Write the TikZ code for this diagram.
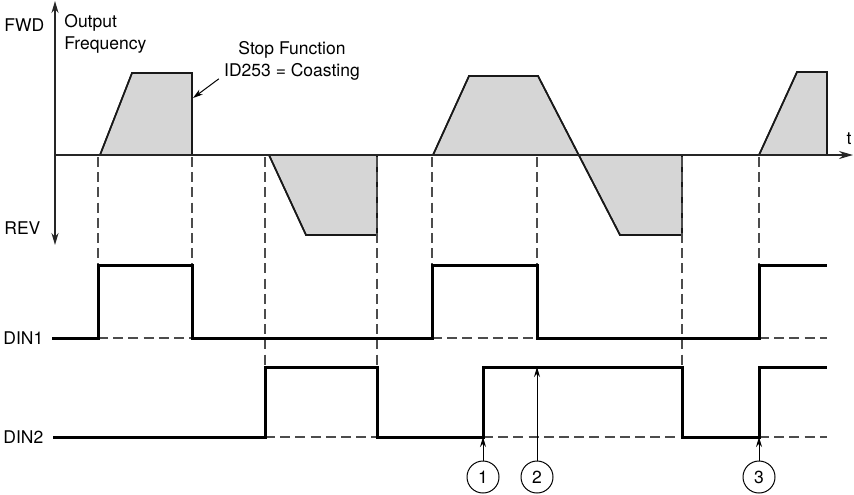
\documentclass[tikz,border=0pt]{standalone}
\usepackage{fontspec}
\setmainfont{TeX Gyre Heros}
\usetikzlibrary{arrows.meta,positioning}

\begin{document}
\begin{tikzpicture}[x=0.5pt,y=-0.5pt,
  axis/.style={line width=0.9pt,black!85},
  ramp/.style={draw=black!90,line width=0.8pt,fill=black!16,line join=miter},
  signal/.style={line width=1.5pt,black,line join=miter},
  guide/.style={dash pattern=on 5pt off 2.6pt,line width=0.8pt,black!70},
  lbl/.style={font=\fontsize{8.75}{11}\selectfont,inner sep=0pt},
  marker/.style={circle,draw,line width=0.5pt,minimum size=16pt,inner sep=0pt,
                 font=\fontsize{8.75}{11}\selectfont},
  pointer/.style={line width=0.5pt,-{Stealth[length=5pt,width=3pt]}},
]
\useasboundingbox (0,0) rectangle (854,494);

% Output frequency profile
\fill[ramp] (100,155) -- (132,73) -- (192,73) -- (192,155) -- cycle;
\fill[ramp] (269,155) -- (306,235) -- (377,235) -- (377,155) -- cycle;
\fill[ramp] (433,155) -- (469,76) -- (538,76) -- (620,235) -- (682,235) -- (682,155) -- cycle;
\fill[ramp] (759,155) -- (797,72) -- (827,72) -- (827,155) -- cycle;
\draw[ramp,fill=none] (100,155) -- (132,73) -- (192,73) -- (192,155);
\draw[ramp,fill=none] (269,155) -- (306,235) -- (377,235) -- (377,155);
\draw[ramp,fill=none] (433,155) -- (469,76) -- (538,76) -- (620,235) -- (682,235) -- (682,155);
\draw[ramp,fill=none] (759,155) -- (797,72) -- (827,72) -- (827,155);

% Guides
\foreach \x/\y in {98/265,192/265,265/367,377/367,432/265,537/265,682/367,759/265}
  \draw[guide] (\x,157) -- (\x,\y);
\foreach \a/\b in {98/192,432/537,759/827}
  \draw[guide] (\a,338) -- (\b,338);
\foreach \a/\b in {265/377,483/682,759/827}
  \draw[guide] (\a,437) -- (\b,437);

% Axes
\coordinate (top) at (55,1);
\coordinate (bottom) at (55,245);
\coordinate (origin) at (55,155);
\coordinate (tend) at (853,155);
\draw[axis,{Stealth[length=6pt,width=3.5pt]}-{Stealth[length=6pt,width=3.5pt]}] (bottom) -- (top);
\draw[axis,-{Stealth[length=7pt,width=4pt]}] (origin) -- (tend);

% Digital inputs
\draw[signal] (52,338) -- (98,338) -- (98,265) -- (192,265) -- (192,338) -- (432,338)
  -- (432,265) -- (537,265) -- (537,338) -- (759,338) -- (759,265) -- (827,265);
\draw[signal] (53,437) -- (265,437) -- (265,367) -- (377,367) -- (377,437) -- (483,437)
  -- (483,367) -- (682,367) -- (682,437) -- (759,437) -- (759,367) -- (827,367);

% Labels
\node[lbl,anchor=west] (fwd) at (4,25) {FWD};
\node[lbl,anchor=west] (rev) at (4,228) {REV};
\node[lbl,anchor=west] (din1) at (3,338) {DIN1};
\node[lbl,anchor=west] (din2) at (3,437) {DIN2};
\node[lbl,anchor=north west,align=left] (freq) at (64,14) {Output\\Frequency};
\node[lbl] (t) at (849,139) {t};
\node[lbl,align=center] (stop) at (292,61) {Stop Function\\ID253 = Coasting};
\coordinate (coast) at (193,98);
\draw[pointer] ([xshift=-2.5pt,yshift=1pt]stop.south west) -- (coast);

% Markers
\node[marker] (m1) at (483,477) {1};
\node[marker] (m2) at (537,477) {2};
\node[marker] (m3) at (759,477) {3};
\coordinate (e1) at (483,437);
\coordinate (e2) at (537,367);
\coordinate (e3) at (759,437);
\draw[pointer] (m1) -- (e1);
\draw[pointer] (m2) -- (e2);
\draw[pointer] (m3) -- (e3);

\end{tikzpicture}
\end{document}
